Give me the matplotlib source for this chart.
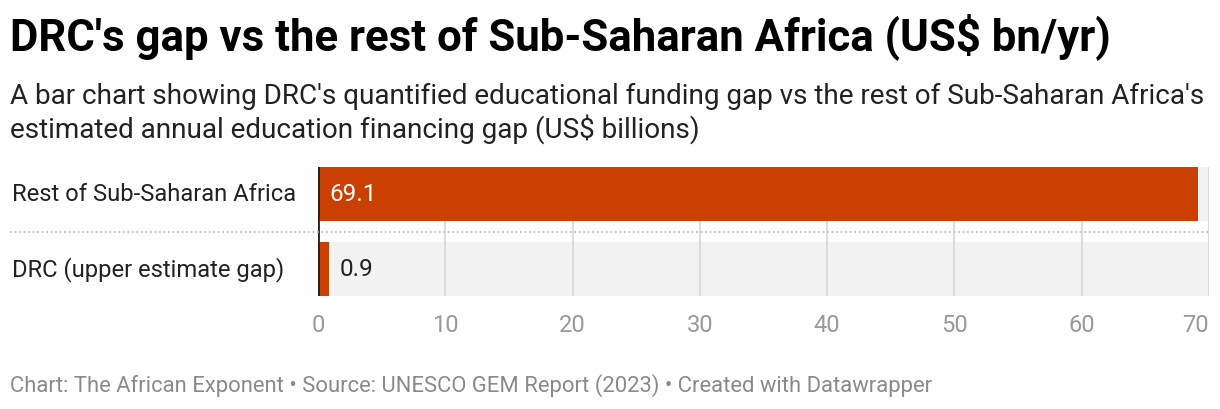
import matplotlib.pyplot as plt
from matplotlib.transforms import blended_transform_factory

# data
categories = ["Rest of Sub-Saharan Africa", "DRC (upper estimate gap)"]
values = [69.1, 0.9]
value_labels = ["69.1", "0.9"]
x_ticks = [0, 10, 20, 30, 40, 50, 60, 70]
x_max = 70

title = "DRC's gap vs the rest of Sub-Saharan Africa (US$ bn/yr)"
subtitle = ("A bar chart showing DRC's quantified educational funding gap vs the rest of Sub-Saharan Africa's\n"
            "estimated annual education financing gap (US$ billions)")
footer = "Chart: The African Exponent \u2022 Source: UNESCO GEM Report (2023) \u2022 Created with Datawrapper"

bar_color = "#c94000"
plt.rcParams['font.family'] = ['Roboto', 'DejaVu Sans']

W, H = 1220, 410
fig = plt.figure(figsize=(W / 100, H / 100), dpi=100)
ax = fig.add_axes([318 / W, 1 - 297 / H, 891 / W, 129 / H])

ypos = list(range(len(categories)))
bar_h = 0.72

# grey background bands, grid, then bars
ax.barh(ypos, [x_max] * len(ypos), height=bar_h, color="#f2f2f2", zorder=0)
ax.vlines(x_ticks[1:], -bar_h / 2, len(ypos) - 1 + bar_h / 2, color="#dcdcdc", lw=1.5, zorder=1)
ax.barh(ypos, values, height=bar_h, color=bar_color, zorder=2)
ax.axvline(0, color="#222222", lw=2, zorder=3)

# dotted separator between rows
for i in range(len(ypos) - 1):
    ax.axhline(i + 0.5, xmin=(10 - 318) / 891, xmax=1, color="#c0c0c0", lw=1.3,
               ls=(0, (1, 1.5)), clip_on=False, zorder=3)

ax.set_xlim(0, x_max)
ax.set_ylim(len(ypos) - 1 + bar_h / 2, -bar_h / 2)

# value labels
for y, v, lab in zip(ypos, values, value_labels):
    if v > 10:
        ax.annotate(lab, (0, y), xytext=(8, 0), textcoords="offset points",
                    va="center", ha="left", color="white", fontsize=17.5, zorder=4)
    else:
        ax.annotate(lab, (v, y), xytext=(7.5, 0), textcoords="offset points",
                    va="center", ha="left", color="#222222", fontsize=17.5, zorder=4)

# category labels on the left
tr = blended_transform_factory(fig.transFigure, ax.transData)
for y, c in zip(ypos, categories):
    fig.text(12 / W, y, c, transform=tr, va="center", ha="left", fontsize=17.1, color="#222222")

ax.set_xticks(x_ticks)
ax.set_xticklabels([str(t) for t in x_ticks], fontsize=17, color="#999999")
ax.get_xticklabels()[-1].set_ha("right")
ax.tick_params(axis="x", length=0, pad=12)
ax.set_yticks([])
for s in ax.spines.values():
    s.set_visible(False)
ax.patch.set_alpha(0)

fig.text(10 / W, 1 - 50 / H, title, fontsize=31.5, fontweight="bold", color="#000000",
         va="baseline", ha="left")
fig.text(10 / W, 1 - 138 / H, subtitle, fontsize=20.1, color="#222222",
         va="baseline", ha="left", linespacing=1.18)
fig.text(10 / W, 1 - 392 / H, footer, fontsize=15.8, color="#8a8a8a", va="baseline", ha="left")

fig.savefig("out.png", dpi=100, facecolor="white")
